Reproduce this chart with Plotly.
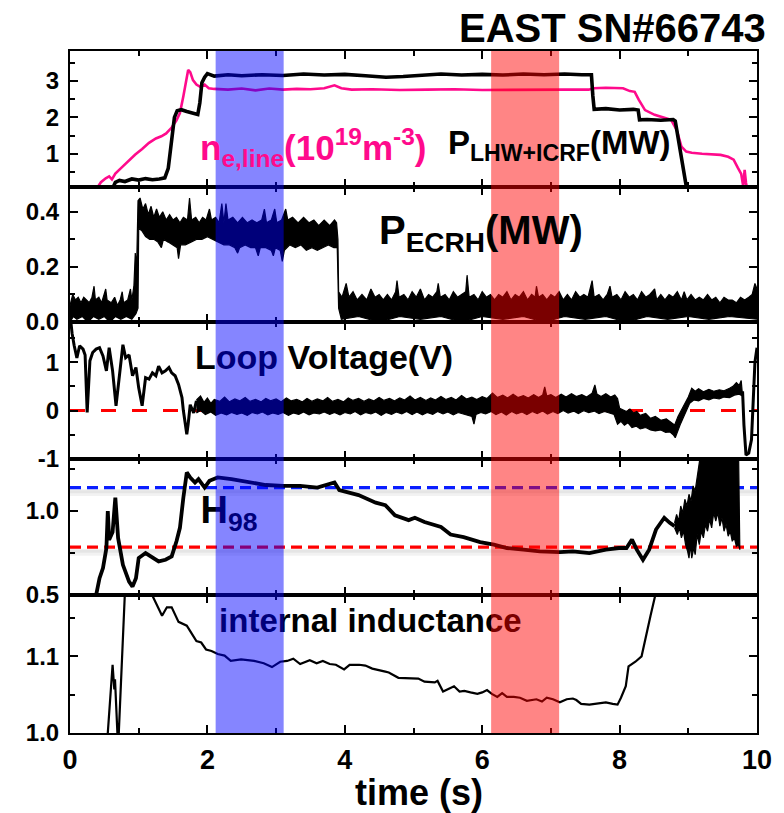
import plotly.graph_objects as go
from plotly.subplots import make_subplots

FONT = "Liberation Sans, Arial, sans-serif"
MAGENTA = "#FF0A8C"

# ---------------- data ----------------
# Panel 1: P_LHW+ICRF (MW) and line-averaged density (1e19 m^-3)
p_lhw = [(0.62, 0.05), (0.66, 0.22), (0.72, 0.27), (0.80, 0.24), (0.90, 0.31), (1.00, 0.28), (1.10, 0.32),
         (1.20, 0.29), (1.30, 0.31), (1.38, 0.34), (1.43, 0.60), (1.47, 1.30), (1.52, 2.00), (1.56, 2.18),
         (1.62, 2.21), (1.70, 2.16), (1.78, 2.12), (1.86, 2.08), (1.89, 2.40), (1.92, 2.95), (1.96, 3.10),
         (2.00, 3.20), (2.10, 3.13), (2.30, 3.17), (2.50, 3.14), (2.80, 3.17), (3.10, 3.15), (3.40, 3.19),
         (3.70, 3.16), (4.00, 3.18), (4.30, 3.14), (4.60, 3.10), (4.85, 3.12), (5.10, 3.16), (5.40, 3.19),
         (5.70, 3.16), (6.00, 3.18), (6.30, 3.16), (6.60, 3.19), (6.90, 3.17), (7.20, 3.19), (7.45, 3.17),
         (7.59, 3.17), (7.61, 2.60), (7.63, 2.22), (7.80, 2.24), (8.00, 2.20), (8.20, 2.22), (8.27, 2.20),
         (8.29, 1.93), (8.40, 1.94), (8.60, 1.92), (8.78, 1.94), (8.81, 1.90), (8.85, 1.45), (8.90, 0.84),
         (8.94, 0.37), (8.98, 0.0)]
n_e = [(0.39, 0.05), (0.45, 0.22), (0.52, 0.33), (0.57, 0.38), (0.61, 0.30), (0.66, 0.46), (0.75, 0.62),
       (0.85, 0.80), (0.95, 0.98), (1.05, 1.13), (1.15, 1.30), (1.25, 1.42), (1.33, 1.48), (1.40, 1.56),
       (1.48, 1.72), (1.55, 1.92), (1.60, 2.12), (1.65, 2.58), (1.69, 3.00), (1.72, 3.30), (1.75, 3.24),
       (1.79, 3.02), (1.84, 2.90), (1.90, 2.83), (1.96, 2.90), (2.02, 2.80), (2.10, 2.78), (2.30, 2.76),
       (2.50, 2.79), (2.70, 2.74), (2.90, 2.79), (3.10, 2.76), (3.30, 2.78), (3.50, 2.77), (3.70, 2.80),
       (3.85, 2.88), (3.95, 2.80), (4.10, 2.76), (4.40, 2.77), (4.80, 2.75), (5.20, 2.76), (5.60, 2.77),
       (6.00, 2.75), (6.40, 2.76), (6.80, 2.75), (7.20, 2.76), (7.55, 2.76), (7.62, 2.80), (7.80, 2.81),
       (8.05, 2.80), (8.15, 2.72), (8.22, 2.70), (8.28, 2.48), (8.37, 2.20), (8.51, 2.07), (8.65, 2.00),
       (8.75, 1.93), (8.83, 1.66), (8.90, 1.20), (8.97, 1.06), (9.05, 1.03), (9.20, 1.00), (9.35, 0.98),
       (9.47, 0.97), (9.58, 0.92), (9.66, 0.84), (9.72, 0.62), (9.77, 0.45), (9.80, 0.10), (9.82, 0.56),
       (9.84, 0.20), (9.86, 0.0)]

# Panel 2: P_ECRH (MW), noisy signal given by its upper and lower envelopes
ecrh_upper = [(0.00, 0.06), (0.04, 0.10), (0.08, 0.08), (0.12, 0.09), (0.16, 0.07), (0.20, 0.09), (0.24, 0.08),
              (0.28, 0.07), (0.32, 0.09), (0.35, 0.13), (0.37, 0.08), (0.42, 0.09), (0.46, 0.07), (0.50, 0.10),
              (0.52, 0.12), (0.54, 0.08), (0.60, 0.07), (0.65, 0.09), (0.69, 0.06), (0.73, 0.08), (0.76, 0.11),
              (0.78, 0.07), (0.84, 0.08), (0.88, 0.12), (0.90, 0.08), (0.93, 0.13), (0.95, 0.25), (0.97, 0.20),
              (0.99, 0.44), (1.02, 0.45), (1.06, 0.41), (1.10, 0.43), (1.14, 0.39), (1.18, 0.42), (1.22, 0.38),
              (1.26, 0.41), (1.30, 0.38), (1.35, 0.40), (1.40, 0.37), (1.45, 0.39), (1.50, 0.37), (1.55, 0.38),
              (1.60, 0.36), (1.65, 0.38), (1.71, 0.37), (1.74, 0.45), (1.77, 0.37), (1.83, 0.38), (1.88, 0.36),
              (1.93, 0.38), (1.98, 0.37), (2.03, 0.41), (2.06, 0.37), (2.12, 0.38), (2.17, 0.36), (2.21, 0.43),
              (2.24, 0.36), (2.27, 0.43), (2.30, 0.37), (2.37, 0.38), (2.44, 0.36), (2.51, 0.38), (2.58, 0.36),
              (2.65, 0.37), (2.72, 0.36), (2.79, 0.37), (2.83, 0.41), (2.86, 0.36), (2.93, 0.37), (2.98, 0.41),
              (3.01, 0.36), (3.08, 0.37), (3.14, 0.41), (3.17, 0.37), (3.24, 0.38), (3.32, 0.36), (3.40, 0.38),
              (3.48, 0.36), (3.55, 0.37), (3.62, 0.35), (3.70, 0.37), (3.78, 0.35), (3.85, 0.37), (3.88, 0.36),
              (3.90, 0.30), (3.91, 0.11), (3.96, 0.09), (4.02, 0.14), (4.06, 0.09), (4.12, 0.11), (4.18, 0.08),
              (4.25, 0.10), (4.32, 0.08), (4.38, 0.12), (4.44, 0.09), (4.50, 0.10), (4.56, 0.08), (4.62, 0.10),
              (4.68, 0.08), (4.74, 0.11), (4.76, 0.15), (4.79, 0.09), (4.86, 0.10), (4.92, 0.08), (4.98, 0.11),
              (5.04, 0.09), (5.10, 0.12), (5.16, 0.08), (5.22, 0.10), (5.28, 0.09), (5.34, 0.11), (5.36, 0.14),
              (5.39, 0.09), (5.46, 0.10), (5.52, 0.08), (5.58, 0.11), (5.64, 0.09), (5.70, 0.10), (5.76, 0.11),
              (5.78, 0.17), (5.81, 0.09), (5.88, 0.10), (5.94, 0.08), (6.00, 0.11), (6.06, 0.09), (6.12, 0.10),
              (6.18, 0.08), (6.24, 0.10), (6.30, 0.09), (6.36, 0.11), (6.42, 0.08), (6.48, 0.10), (6.54, 0.09),
              (6.60, 0.11), (6.66, 0.08), (6.72, 0.10), (6.77, 0.09), (6.79, 0.13), (6.82, 0.09), (6.88, 0.10),
              (6.94, 0.08), (7.00, 0.10), (7.06, 0.09), (7.12, 0.11), (7.18, 0.08), (7.24, 0.10), (7.30, 0.08),
              (7.36, 0.11), (7.42, 0.09), (7.48, 0.10), (7.54, 0.09), (7.60, 0.15), (7.63, 0.09), (7.70, 0.10),
              (7.76, 0.08), (7.82, 0.10), (7.86, 0.13), (7.89, 0.09), (7.96, 0.10), (8.02, 0.08), (8.08, 0.11),
              (8.14, 0.09), (8.20, 0.10), (8.26, 0.08), (8.32, 0.11), (8.38, 0.09), (8.44, 0.10), (8.51, 0.12),
              (8.54, 0.08), (8.60, 0.10), (8.66, 0.08), (8.72, 0.10), (8.78, 0.09), (8.84, 0.11), (8.90, 0.08),
              (8.94, 0.11), (8.98, 0.08), (9.04, 0.10), (9.10, 0.08), (9.16, 0.09), (9.22, 0.08), (9.28, 0.10),
              (9.34, 0.08), (9.40, 0.09), (9.46, 0.07), (9.52, 0.09), (9.58, 0.08), (9.64, 0.08), (9.70, 0.07),
              (9.76, 0.09), (9.82, 0.08), (9.88, 0.09), (9.93, 0.10), (9.97, 0.14), (10.0, 0.12)]
ecrh_lower = [(0.00, 0.00), (0.05, 0.02), (0.10, 0.01), (0.18, 0.02), (0.26, 0.00), (0.34, 0.02), (0.42, 0.01),
              (0.50, 0.02), (0.58, 0.00), (0.66, 0.02), (0.74, 0.01), (0.82, 0.02), (0.90, 0.01), (0.96, 0.03),
              (0.99, 0.05), (1.00, 0.34), (1.05, 0.33), (1.10, 0.31), (1.16, 0.30), (1.22, 0.30), (1.28, 0.29),
              (1.33, 0.27), (1.36, 0.30), (1.43, 0.29), (1.50, 0.28), (1.56, 0.27), (1.58, 0.23), (1.61, 0.28),
              (1.68, 0.28), (1.76, 0.29), (1.84, 0.30), (1.92, 0.30), (2.00, 0.31), (2.08, 0.30), (2.16, 0.29),
              (2.24, 0.28), (2.32, 0.28), (2.40, 0.27), (2.44, 0.25), (2.47, 0.27), (2.55, 0.28), (2.63, 0.27),
              (2.70, 0.27), (2.74, 0.24), (2.77, 0.27), (2.85, 0.27), (2.93, 0.26), (2.96, 0.24), (2.99, 0.27),
              (3.06, 0.26), (3.09, 0.22), (3.12, 0.26), (3.20, 0.28), (3.28, 0.27), (3.36, 0.28), (3.44, 0.26),
              (3.52, 0.27), (3.60, 0.26), (3.68, 0.27), (3.76, 0.28), (3.84, 0.27), (3.89, 0.27), (3.91, 0.05),
              (3.95, 0.01), (4.20, 0.02), (4.50, 0.00), (4.80, 0.02), (5.10, 0.01), (5.40, 0.02), (5.70, 0.00),
              (6.00, 0.02), (6.30, 0.01), (6.60, 0.02), (6.90, 0.00), (7.20, 0.02), (7.50, 0.01), (7.80, 0.02),
              (8.10, 0.00), (8.40, 0.02), (8.70, 0.01), (9.00, 0.02), (9.30, 0.01), (9.60, 0.02), (10.0, 0.01)]

# Panel 3: loop voltage (V)
vloop_start = [(0.00, 2.00), (0.03, 1.60), (0.06, 1.35), (0.10, 1.09), (0.14, 1.34), (0.19, 1.27), (0.22, 1.15),
               (0.25, -0.04), (0.29, 1.03), (0.33, 1.20), (0.38, 1.27), (0.43, 1.30), (0.48, 1.13), (0.53, 0.82),
               (0.57, 1.30), (0.62, 0.82), (0.67, 0.10), (0.72, 0.72), (0.77, 1.36), (0.81, 1.09), (0.86, 1.15),
               (0.91, 0.72), (0.96, 0.89), (1.00, 0.47), (1.05, 0.10), (1.10, 0.68), (1.15, 0.65), (1.20, 0.78),
               (1.25, 0.72), (1.29, 0.92), (1.34, 0.78), (1.39, 0.82), (1.44, 0.89), (1.48, 0.78), (1.53, 0.72),
               (1.58, 0.54), (1.63, 0.27), (1.65, 0.00), (1.70, -0.49), (1.72, -0.28), (1.75, 0.12),
               (1.80, -0.05), (1.84, 0.20)]
vloop_upper = [(1.84, 0.22), (1.90, 0.30), (1.95, 0.17), (2.00, 0.26), (2.05, 0.15), (2.10, 0.23), (2.18, 0.19),
               (2.25, 0.28), (2.32, 0.18), (2.40, 0.24), (2.47, 0.20), (2.55, 0.27), (2.62, 0.19), (2.70, 0.23),
               (2.78, 0.18), (2.85, 0.25), (2.92, 0.20), (3.00, 0.24), (3.07, 0.18), (3.15, 0.26), (3.22, 0.20),
               (3.30, 0.23), (3.38, 0.18), (3.45, 0.25), (3.52, 0.19), (3.60, 0.24), (3.68, 0.20), (3.75, 0.27),
               (3.82, 0.19), (3.90, 0.23), (3.98, 0.18), (4.05, 0.26), (4.12, 0.21), (4.20, 0.25), (4.28, 0.19),
               (4.35, 0.24), (4.42, 0.20), (4.50, 0.27), (4.57, 0.21), (4.65, 0.25), (4.72, 0.20), (4.80, 0.26),
               (4.87, 0.22), (4.95, 0.30), (5.02, 0.22), (5.10, 0.27), (5.18, 0.21), (5.25, 0.26), (5.32, 0.22),
               (5.40, 0.29), (5.47, 0.23), (5.55, 0.27), (5.62, 0.22), (5.70, 0.31), (5.77, 0.24), (5.85, 0.28),
               (5.92, 0.23), (6.00, 0.29), (6.07, 0.25), (6.15, 0.36), (6.22, 0.27), (6.30, 0.32), (6.37, 0.26),
               (6.45, 0.34), (6.52, 0.27), (6.60, 0.31), (6.67, 0.26), (6.75, 0.33), (6.82, 0.27), (6.88, 0.32),
               (6.91, 0.49), (6.94, 0.30), (7.00, 0.33), (7.07, 0.27), (7.15, 0.34), (7.22, 0.28), (7.30, 0.35),
               (7.37, 0.29), (7.45, 0.33), (7.52, 0.28), (7.60, 0.36), (7.64, 0.53), (7.67, 0.34), (7.73, 0.29),
               (7.80, 0.35), (7.87, 0.28), (7.93, 0.32), (7.97, 0.25), (8.00, 0.05), (8.05, 0.02), (8.10, -0.02),
               (8.15, 0.03), (8.20, -0.05), (8.25, -0.02), (8.30, -0.10), (8.38, -0.06), (8.45, -0.16),
               (8.52, -0.12), (8.60, -0.20), (8.68, -0.17), (8.75, -0.25), (8.80, -0.30), (8.85, -0.12),
               (8.90, 0.02), (8.95, 0.15), (9.00, 0.28), (9.05, 0.46), (9.10, 0.40), (9.15, 0.45), (9.22, 0.39),
               (9.30, 0.44), (9.37, 0.40), (9.45, 0.43), (9.52, 0.41), (9.60, 0.46), (9.65, 0.50), (9.70, 0.58),
               (9.74, 0.52), (9.77, 0.62), (9.79, 0.40)]
vloop_lower = [(1.84, -0.05), (1.90, 0.00), (1.97, -0.08), (2.05, -0.03), (2.12, -0.10), (2.20, -0.05),
               (2.28, -0.09), (2.35, -0.04), (2.43, -0.08), (2.50, -0.05), (2.58, -0.10), (2.65, -0.04),
               (2.73, -0.07), (2.80, -0.03), (2.88, -0.09), (2.95, -0.05), (3.03, -0.08), (3.10, -0.04),
               (3.18, -0.10), (3.25, -0.05), (3.33, -0.08), (3.40, -0.03), (3.48, -0.09), (3.55, -0.05),
               (3.63, -0.07), (3.70, -0.03), (3.78, -0.08), (3.85, -0.04), (3.93, -0.09), (4.00, -0.04),
               (4.08, -0.07), (4.15, -0.02), (4.23, -0.09), (4.30, -0.04), (4.38, -0.07), (4.45, -0.03),
               (4.53, -0.10), (4.60, -0.04), (4.68, -0.08), (4.75, -0.03), (4.83, -0.07), (4.90, -0.02),
               (4.98, -0.08), (5.05, -0.03), (5.13, -0.09), (5.20, -0.04), (5.28, -0.08), (5.35, -0.02),
               (5.43, -0.07), (5.50, -0.03), (5.58, -0.09), (5.65, -0.04), (5.75, -0.08), (5.85, -0.12),
               (5.88, -0.28), (5.91, -0.08), (5.98, -0.04), (6.05, -0.07), (6.13, -0.02), (6.20, -0.08),
               (6.28, -0.03), (6.35, -0.09), (6.43, -0.02), (6.50, -0.07), (6.58, -0.03), (6.65, -0.08),
               (6.73, -0.02), (6.80, -0.06), (6.88, -0.01), (6.95, -0.07), (7.03, -0.02), (7.10, -0.06),
               (7.18, 0.00), (7.25, -0.05), (7.33, -0.01), (7.40, -0.06), (7.48, 0.00), (7.55, -0.04),
               (7.63, -0.01), (7.70, -0.06), (7.78, -0.02), (7.85, -0.05), (7.92, -0.08), (7.97, -0.28),
               (8.02, -0.22), (8.07, -0.30), (8.12, -0.25), (8.18, -0.35), (8.24, -0.32), (8.30, -0.38),
               (8.38, -0.35), (8.45, -0.40), (8.52, -0.42), (8.60, -0.40), (8.67, -0.45), (8.73, -0.44),
               (8.78, -0.50), (8.81, -0.56), (8.84, -0.45), (8.88, -0.30), (8.92, -0.15), (8.97, 0.00),
               (9.02, 0.15), (9.08, 0.22), (9.15, 0.20), (9.22, 0.25), (9.30, 0.22), (9.37, 0.26), (9.45, 0.24),
               (9.52, 0.28), (9.60, 0.27), (9.67, 0.32), (9.74, 0.34), (9.79, 0.30)]
vloop_end = [(9.79, 0.40), (9.81, -0.30), (9.84, -0.92), (9.88, -0.88), (9.92, -0.60), (9.95, 0.20),
             (9.97, 1.00), (10.0, 1.30)]
VLOOP_REF = 0.0

# Panel 4: H98
h98 = [(0.38, 0.50), (0.43, 0.60), (0.48, 0.66), (0.53, 0.78), (0.55, 1.00), (0.57, 0.83), (0.62, 0.875),
       (0.66, 1.08), (0.70, 0.84), (0.77, 0.68), (0.86, 0.58), (0.91, 0.55), (0.96, 0.60), (1.00, 0.72),
       (1.10, 0.75), (1.20, 0.72), (1.29, 0.70), (1.39, 0.71), (1.48, 0.73), (1.55, 0.82), (1.60, 0.90),
       (1.65, 1.08), (1.70, 1.23), (1.75, 1.20), (1.82, 1.17), (1.87, 1.19), (1.96, 1.14), (2.03, 1.18),
       (2.15, 1.20), (2.35, 1.19), (2.60, 1.17), (2.85, 1.155), (3.10, 1.15), (3.35, 1.15), (3.60, 1.14),
       (3.85, 1.17), (3.92, 1.125), (4.20, 1.095), (4.45, 1.05), (4.59, 1.035), (4.73, 0.975), (4.93, 0.946),
       (5.02, 0.96), (5.16, 0.935), (5.40, 0.905), (5.54, 0.86), (5.73, 0.845), (5.97, 0.815), (6.17, 0.80),
       (6.36, 0.78), (6.60, 0.77), (6.84, 0.76), (7.13, 0.755), (7.32, 0.76), (7.56, 0.75), (7.80, 0.77),
       (7.99, 0.78), (8.10, 0.78), (8.18, 0.83), (8.25, 0.77), (8.34, 0.71), (8.43, 0.77), (8.53, 0.89),
       (8.65, 0.96), (8.73, 0.93), (8.80, 0.91)]
h98_upper = [(8.80, 0.93), (8.83, 0.98), (8.86, 0.94), (8.89, 1.03), (8.92, 0.99), (8.95, 1.07), (8.98, 1.03),
             (9.01, 1.10), (9.04, 1.06), (9.07, 1.15), (9.10, 1.12), (9.13, 1.22), (9.16, 1.30), (9.20, 1.40),
             (9.73, 1.40), (9.75, 0.78)]
h98_lower = [(8.80, 0.90), (8.84, 0.86), (8.87, 0.90), (8.90, 0.84), (8.93, 0.88), (8.96, 0.80), (8.99, 0.76),
             (9.01, 0.72), (9.03, 0.80), (9.05, 0.72), (9.08, 0.78), (9.10, 0.74), (9.13, 0.86), (9.16, 0.80),
             (9.19, 0.88), (9.22, 0.84), (9.25, 0.92), (9.28, 0.88), (9.31, 0.95), (9.34, 0.90), (9.37, 0.99),
             (9.40, 0.94), (9.43, 0.99), (9.46, 0.91), (9.49, 0.96), (9.52, 0.88), (9.55, 0.92), (9.58, 0.85),
             (9.61, 0.88), (9.64, 0.82), (9.67, 0.84), (9.70, 0.79), (9.73, 0.80), (9.75, 0.77)]
H98_HIGH = 1.14
H98_LOW = 0.785

# Panel 5: internal inductance
li = [(0.54, 0.98), (0.55, 1.00), (0.62, 1.089), (0.645, 1.057), (0.655, 1.07), (0.69, 1.00), (0.70, 0.98),
      (0.71, 1.00), (0.80, 1.185), (0.85, 1.25), (1.15, 1.25), (1.20, 1.179), (1.34, 1.153), (1.41, 1.164),
      (1.48, 1.164), (1.58, 1.145), (1.70, 1.14), (1.77, 1.13), (1.84, 1.12), (1.91, 1.118), (1.98, 1.109),
      (2.06, 1.107), (2.15, 1.103), (2.25, 1.101), (2.34, 1.094), (2.49, 1.096), (2.68, 1.094), (2.82, 1.091),
      (2.94, 1.086), (3.06, 1.093), (3.16, 1.094), (3.25, 1.097), (3.35, 1.090), (3.49, 1.095), (3.59, 1.091),
      (3.68, 1.094), (3.78, 1.090), (3.87, 1.089), (3.99, 1.083), (4.07, 1.089), (4.21, 1.089), (4.30, 1.088),
      (4.40, 1.084), (4.59, 1.080), (4.64, 1.079), (4.78, 1.072), (4.93, 1.071), (5.07, 1.071), (5.16, 1.067),
      (5.31, 1.066), (5.35, 1.068), (5.43, 1.054), (5.50, 1.057), (5.59, 1.061), (5.67, 1.054), (5.74, 1.055),
      (5.83, 1.053), (5.93, 1.051), (6.00, 1.053), (6.07, 1.056), (6.14, 1.051), (6.22, 1.047), (6.29, 1.052),
      (6.36, 1.047), (6.46, 1.047), (6.55, 1.046), (6.65, 1.042), (6.79, 1.044), (6.87, 1.041), (6.94, 1.046),
      (7.03, 1.044), (7.13, 1.040), (7.23, 1.044), (7.32, 1.045), (7.37, 1.043), (7.44, 1.038), (7.56, 1.037),
      (7.66, 1.038), (7.80, 1.040), (7.90, 1.038), (7.97, 1.037), (8.02, 1.046), (8.09, 1.061), (8.13, 1.087),
      (8.23, 1.093), (8.32, 1.100), (8.38, 1.126), (8.45, 1.153), (8.52, 1.180), (8.56, 1.200)]

# time windows highlighted
BLUE_WINDOW = (2.12, 3.11)
RED_WINDOW = (6.13, 7.12)

# axes
x_major = [0, 2, 4, 6, 8, 10]
x_minor = [1, 3, 5, 7, 9]
y_ranges = [[0.09, 3.82], [0.0, 0.49], [-1.0, 1.83], [0.5, 1.31], [1.0, 1.18]]
y_major = [[1, 2, 3], [0.0, 0.2, 0.4], [-1, 0, 1], [0.5, 1.0], [1.0, 1.1]]
y_major_text = [["1", "2", "3"], ["0.0", "0.2", "0.4"], ["-1", "0", "1"], ["0.5", "1.0"], ["1.0", "1.1"]]
y_minor = [[0.5, 1.5, 2.5, 3.5], [0.1, 0.3], [-0.5, 0.5, 1.5], [0.75, 1.25], [1.05, 1.15]]
domains = [[0.8006, 1.0], [0.6026, 0.8006], [0.4018, 0.6026], [0.2023, 0.4018], [0.0, 0.2023]]


def xs(pairs):
    return [p[0] for p in pairs]


def ys(pairs):
    return [p[1] for p in pairs]


def band(upper, lower):
    return xs(upper) + xs(lower)[::-1], ys(upper) + ys(lower)[::-1]


fig = make_subplots(rows=5, cols=1, shared_xaxes=True, vertical_spacing=0)

# Panel 1
fig.add_trace(go.Scatter(x=xs(n_e), y=ys(n_e), mode="lines", line=dict(color=MAGENTA, width=2.6)), row=1, col=1)
fig.add_trace(go.Scatter(x=xs(p_lhw), y=ys(p_lhw), mode="lines", line=dict(color="black", width=3.6)), row=1, col=1)

# Panel 2
bx, by = band(ecrh_upper, ecrh_lower)
fig.add_trace(go.Scatter(x=bx, y=by, mode="lines", fill="toself", fillcolor="black",
                         line=dict(color="black", width=1.2)), row=2, col=1)

# Panel 3
fig.add_trace(go.Scatter(x=[0, 10], y=[VLOOP_REF, VLOOP_REF], mode="lines",
                         line=dict(color="#FF0000", width=3, dash="15px,16px")), row=3, col=1)
fig.add_trace(go.Scatter(x=xs(vloop_start), y=ys(vloop_start), mode="lines",
                         line=dict(color="black", width=3)), row=3, col=1)
bx, by = band(vloop_upper, vloop_lower)
fig.add_trace(go.Scatter(x=bx, y=by, mode="lines", fill="toself", fillcolor="black",
                         line=dict(color="black", width=1.2)), row=3, col=1)
fig.add_trace(go.Scatter(x=xs(vloop_end), y=ys(vloop_end), mode="lines",
                         line=dict(color="black", width=3)), row=3, col=1)
fig.add_trace(go.Scatter(x=[1.82], y=[1.03], mode="text", text=["<b>Loop Voltage(V)</b>"],
                         textposition="middle right", cliponaxis=False,
                         textfont=dict(family=FONT, size=34, color="black")), row=3, col=1)

# Panel 4
for lvl in (H98_HIGH, H98_LOW):
    fig.add_trace(go.Scatter(x=[0, 10], y=[lvl - 0.03, lvl - 0.03], mode="lines",
                             line=dict(color="rgba(0,0,0,0.05)", width=7)), row=4, col=1)
    fig.add_trace(go.Scatter(x=[0, 10], y=[lvl - 0.025, lvl - 0.025], mode="lines",
                             line=dict(color="rgba(0,0,0,0.05)", width=3)), row=4, col=1)
fig.add_trace(go.Scatter(x=[0, 10], y=[H98_HIGH, H98_HIGH], mode="lines",
                         line=dict(color="#0A1EFF", width=3.2, dash="11px,6px")), row=4, col=1)
fig.add_trace(go.Scatter(x=[0, 10], y=[H98_LOW, H98_LOW], mode="lines",
                         line=dict(color="#FF0000", width=3.2, dash="11px,6px")), row=4, col=1)
fig.add_trace(go.Scatter(x=xs(h98), y=ys(h98), mode="lines", line=dict(color="black", width=3.8)), row=4, col=1)
bx, by = band(h98_upper, h98_lower)
fig.add_trace(go.Scatter(x=bx, y=by, mode="lines", fill="toself", fillcolor="black",
                         line=dict(color="black", width=1.2)), row=4, col=1)
fig.add_trace(go.Scatter(x=[1.90], y=[0.985], mode="text", text=["<b>H<sub>98</sub></b>"],
                         textposition="middle right", cliponaxis=False,
                         textfont=dict(family=FONT, size=38, color="black")), row=4, col=1)

# Panel 5
fig.add_trace(go.Scatter(x=xs(li), y=ys(li), mode="lines", line=dict(color="black", width=2.2)), row=5, col=1)
fig.add_trace(go.Scatter(x=[2.17], y=[1.142], mode="text", text=["<b>internal inductance</b>"],
                         textposition="middle right", cliponaxis=False,
                         textfont=dict(family=FONT, size=33, color="black")), row=5, col=1)

# highlighted windows (drawn over the curves)
for (a, b), col in ((BLUE_WINDOW, "rgba(0,0,255,0.48)"), (RED_WINDOW, "rgba(255,0,0,0.48)")):
    fig.add_shape(type="rect", xref="x5", yref="paper", x0=a, x1=b, y0=0, y1=1,
                  fillcolor=col, line=dict(width=0), layer="above")

tick_font = dict(family=FONT, size=24, color="black", weight="bold")
for i in range(5):
    ax_name = "yaxis" if i == 0 else f"yaxis{i + 1}"
    fig.layout[ax_name].update(
        range=y_ranges[i], domain=domains[i], tickmode="array", tickvals=y_major[i], ticktext=y_major_text[i],
        ticks="inside", ticklen=8, tickwidth=2, tickcolor="black", showline=True, linewidth=2,
        linecolor="black", mirror="ticks", showgrid=False, zeroline=False, tickfont=tick_font,
        ticklabelstandoff=4,
        minor=dict(tickmode="array", tickvals=y_minor[i], ticks="inside", ticklen=5, tickwidth=2,
                   tickcolor="black", showgrid=False))
    xname = "xaxis" if i == 0 else f"xaxis{i + 1}"
    fig.layout[xname].update(
        range=[0, 10], tickmode="array", tickvals=x_major, ticktext=[str(v) for v in x_major],
        ticks="inside", ticklen=8, tickwidth=2, tickcolor="black", showline=True, linewidth=2,
        linecolor="black", mirror="ticks", showgrid=False, zeroline=False,
        showticklabels=(i == 4), tickfont=dict(family=FONT, size=27, color="black", weight="bold"),
        ticklabelstandoff=2,
        minor=dict(tickmode="array", tickvals=x_minor, ticks="inside", ticklen=5, tickwidth=2,
                   tickcolor="black", showgrid=False))

annotations = [
    dict(text="<b>EAST SN#66743</b>", xref="paper", yref="paper", x=1.016, y=1.034, xanchor="right",
         yanchor="middle", showarrow=False, font=dict(family=FONT, size=40, color="black")),
    dict(text="<b>n<sub>e,line</sub>(10<sup>19</sup>m<sup>-3</sup>)</b>", xref="x", yref="y", x=1.86, y=1.16,
         xanchor="left", yanchor="middle", showarrow=False, font=dict(family=FONT, size=35, color=MAGENTA)),
    dict(text="<b>P<sub>LHW+ICRF</sub>(MW)</b>", xref="x", yref="y", x=5.48, y=1.25,
         xanchor="left", yanchor="middle", showarrow=False, font=dict(family=FONT, size=33, color="black")),
    dict(text="<b>P<sub>ECRH</sub>(MW)</b>", xref="x2", yref="y2", x=4.47, y=0.324,
         xanchor="left", yanchor="middle", showarrow=False, font=dict(family=FONT, size=40, color="black")),
    dict(text="<b>time (s)</b>", xref="paper", yref="paper", x=0.508, y=-0.0872, xanchor="center",
         yanchor="middle", showarrow=False, borderpad=0, font=dict(family=FONT, size=36, color="black")),
]

fig.update_layout(width=784, height=813, margin=dict(l=70, r=17, t=51, b=80),
                  paper_bgcolor="white", plot_bgcolor="white", showlegend=False,
                  annotations=annotations)

fig.write_html("out.html")
